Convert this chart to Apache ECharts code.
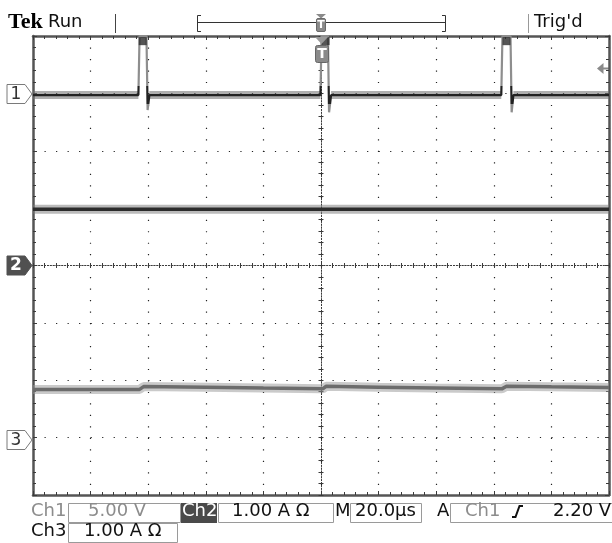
<!DOCTYPE html>
<html>
<head>
<meta charset="utf-8">
<script src="https://cdn.jsdelivr.net/npm/echarts@6/dist/echarts.min.js"></script>
<style>
html, body { margin: 0; padding: 0; background: #fff; }
#scope { width: 612px; height: 543px; }
</style>
</head>
<body>
<div id="scope"></div>
<script>
// ---- Acquisition data (time in µs relative to trigger, 20 µs/div) ----
// Channel 1: switching node voltage (V), 5.00 V/div
const ch1Time = [-100, -63.4, -63.0, -60.6, -60.2, -59.6, -0.2, 0.2, 2.4, 2.8, 3.5, 62.6, 63.0, 65.8, 66.2, 66.8, 100];
const ch1Volt = [0, 0, 5.15, 5.15, -1.3, 0, 0, 5.15, 5.15, -1.5, 0, 0, 5.15, 5.15, -1.5, 0, 0];
// Channel 1 over-range (clipped) blobs at the top of each pulse
const ch1ClipTime = [-61.9, 1.6, 64.4];
const ch1ClipVolt = [4.7, 4.7, 4.7];
// Channel 2: current (A), 1.00 A/div
const ch2Time = [-100, 100];
const ch2Amp = [0.98, 0.98];
// Channel 3: current (A), 1.00 A/div
const ch3Time = [-100, -63.0, -61.6, -40, -20, 0.6, 1.8, 20, 40, 62.8, 64.4, 80, 100];
const ch3Amp = [0.88, 0.88, 0.93, 0.92, 0.905, 0.89, 0.935, 0.92, 0.905, 0.89, 0.935, 0.925, 0.915];

// ---- Readout texts ----
const brandText = 'Tek';
const runText = 'Run';
const trigStateText = "Trig'd";
const ch1Label = 'Ch1', ch1Scale = '5.00 V';
const ch2Label = 'Ch2', ch2Scale = '1.00 A Ω';
const ch3Label = 'Ch3', ch3Scale = '1.00 A Ω';
const timebaseLabel = 'M', timebaseText = '20.0µs';
const trigLabel = 'A', trigSource = 'Ch1', trigLevel = '2.20 V';
const channelMarks = ['1', '2', '3'];

const zip = (xs, ys) => xs.map((x, i) => [x, ys[i]]);
// persistence haze only follows the settled (near-ground) part of channel 1
const ch1Settled = ch1Time.map((t, i) => Math.abs(ch1Volt[i]) <= 0.8 ? [t, ch1Volt[i]] : [t, null]);

const chart = echarts.init(document.getElementById('scope'), null, { renderer: 'canvas' });

const FONT = '"DejaVu Sans", Verdana, sans-serif';
const GRID = { left: 33, top: 36, width: 576, height: 459 };

const dotGrid = { color: '#222', width: 1.2 };
const centerAxis = (pos) => ({
  type: 'value', min: -100, max: 100, interval: 20, position: pos,
  axisLine: { show: true, onZero: true, onZeroAxisIndex: 0, lineStyle: { color: '#3a3a3a', width: 1, type: [1, 1.88] } },
  axisTick: { show: true, inside: true, length: 2.5, lineStyle: { color: '#3a3a3a', width: 1 } },
  minorTick: { show: true, splitNumber: 5, length: 2.5, lineStyle: { color: '#3a3a3a', width: 1 } },
  axisLabel: { show: false }, splitLine: { show: false }
});
const borderX = (pos) => ({
  type: 'value', min: -100, max: 100, interval: 20, position: pos,
  axisLine: { show: true, onZero: false, lineStyle: { color: '#555', width: 2.5 } },
  axisTick: { show: true, inside: true, length: 4, lineStyle: { color: '#3a3a3a', width: 1 } },
  minorTick: { show: true, splitNumber: 5, length: 3, lineStyle: { color: '#3a3a3a', width: 1 } },
  axisLabel: { show: false }, splitLine: { show: false }
});
const centerY = (pos) => ({
  type: 'value', min: -4, max: 4, interval: 1, position: pos,
  axisLine: { show: true, onZero: true, onZeroAxisIndex: 0, lineStyle: { color: '#3a3a3a', width: 1, type: [1, 1.87] } },
  axisTick: { show: true, inside: true, length: 2.5, lineStyle: { color: '#3a3a3a', width: 1 } },
  minorTick: { show: true, splitNumber: 5, length: 2.5, lineStyle: { color: '#3a3a3a', width: 1 } },
  axisLabel: { show: false }, splitLine: { show: false }
});
const borderY = (pos) => ({
  type: 'value', min: -4, max: 4, interval: 1, position: pos,
  axisLine: { show: true, onZero: false, lineStyle: { color: '#555', width: 2.5 } },
  axisTick: { show: true, inside: true, length: 4, lineStyle: { color: '#3a3a3a', width: 1 } },
  minorTick: { show: true, splitNumber: 5, length: 3, lineStyle: { color: '#3a3a3a', width: 1 } },
  axisLabel: { show: false }, splitLine: { show: false }
});

const xAxes = [centerAxis('bottom'), centerAxis('top'), borderX('bottom'), borderX('top')];
xAxes[0].splitLine = { show: true, lineStyle: Object.assign({ type: [1.2, 10.28] }, dotGrid) };

const yAxes = [centerY('left'), centerY('right'), borderY('left'), borderY('right'),
  // hidden per-channel scales: ch1 ground 2.97 div above centre, ch3 ground 3.04 div below
  { type: 'value', show: false, min: -34.85, max: 5.15 },
  { type: 'value', show: false, min: -0.96, max: 7.04 }];
yAxes[0].splitLine = { show: true, lineStyle: Object.assign({ type: [1.2, 10.32] }, dotGrid) };

const traceBase = { type: 'line', showSymbol: false, symbol: 'none', silent: true, animation: false, xAxisIndex: 0, connectNulls: false };

function text(x, y, str, opt) {
  opt = opt || {};
  return {
    type: 'text', silent: true, z: 100,
    style: {
      x: x, y: y, text: str,
      font: (opt.weight || 'normal') + ' ' + (opt.size || 18) + 'px ' + (opt.family || FONT),
      fill: opt.color || '#111',
      align: opt.align || 'left', verticalAlign: 'middle',
      textAlign: opt.align || 'left', textVerticalAlign: 'middle'
    }
  };
}
function box(x, y, w, h, fill, stroke) {
  return { type: 'rect', silent: true, z: 90, shape: { x: x, y: y, width: w, height: h },
    style: { fill: fill || 'none', stroke: stroke || 'none', lineWidth: 1 } };
}
function poly(points, style, closed) {
  return { type: closed ? 'polygon' : 'polyline', silent: true, z: 95, shape: { points: points }, style: style };
}
function marker(yc, label, filled) {
  const pts = [[7, yc - 9.5], [25, yc - 9.5], [32, yc], [25, yc + 9.5], [7, yc + 9.5]];
  return [
    poly(pts, { fill: filled ? '#505050' : '#fff', stroke: filled ? '#505050' : '#7a7a7a', lineWidth: 1 }, true),
    text(16, yc + 0.5, label, { size: 17, color: filled ? '#fff' : '#333', align: 'center', weight: filled ? 'bold' : 'normal' })
  ];
}

const rowY1 = 511.6, rowY2 = 531.6;
const graphics = [
  // status line
  text(8, 22.5, brandText, { size: 22, weight: 'bold', family: '"Liberation Serif", "DejaVu Serif", serif', color: '#000' }),
  text(48, 22.6, runText),
  { type: 'line', silent: true, shape: { x1: 115.5, y1: 14, x2: 115.5, y2: 33 }, style: { stroke: '#444', lineWidth: 1 } },
  poly([[201, 15.5], [197.5, 15.5], [197.5, 31.5], [201, 31.5]], { stroke: '#333', lineWidth: 1, fill: 'none' }),
  { type: 'line', silent: true, shape: { x1: 197.5, y1: 22.5, x2: 445.5, y2: 22.5 }, style: { stroke: '#333', lineWidth: 1 } },
  poly([[442, 15.5], [445.5, 15.5], [445.5, 31.5], [442, 31.5]], { stroke: '#333', lineWidth: 1, fill: 'none' }),
  poly([[316, 14], [326, 14], [321, 18.5]], { fill: '#8a8a8a' }, true),
  { type: 'rect', silent: true, z: 95, shape: { x: 316.5, y: 18.5, width: 9, height: 13, r: 1.5 }, style: { fill: '#8a8a8a', stroke: '#6a6a6a', lineWidth: 1 } },
  text(321, 25.5, 'T', { size: 11, color: '#fff', align: 'center', weight: 'bold' }),
  { type: 'line', silent: true, shape: { x1: 528.5, y1: 14, x2: 528.5, y2: 33 }, style: { stroke: '#999', lineWidth: 1 } },
  text(534, 22.6, trigStateText),
  // trigger position marker inside the graticule
  poly([[315, 37], [328, 37], [321.5, 44]], { fill: '#9a9a9a' }, true),
  { type: 'rect', silent: true, z: 95, shape: { x: 315.5, y: 45.5, width: 13, height: 17, r: 2 }, style: { fill: '#8a8a8a', stroke: '#666', lineWidth: 1 } },
  text(322, 54.5, 'T', { size: 14, color: '#fff', align: 'center', weight: 'bold' }),
  // trigger level arrow on the right edge
  poly([[597, 68.5], [603.5, 63], [603.5, 74]], { fill: '#8a8a8a' }, true),
  { type: 'line', silent: true, shape: { x1: 602, y1: 68.5, x2: 609, y2: 68.5 }, style: { stroke: '#8a8a8a', lineWidth: 2 } },
  // readout boxes
  box(68.5, 503.5, 112, 19, 'none', '#9a9a9a'),
  box(181, 503, 36, 20, '#4a4a4a', 'none'),
  box(218.5, 503.5, 115, 19, 'none', '#9a9a9a'),
  box(350.5, 503.5, 71, 19, 'none', '#9a9a9a'),
  box(450.5, 503.5, 162, 19, 'none', '#9a9a9a'),
  box(68.5, 523.5, 109, 19, 'none', '#9a9a9a'),
  text(31, rowY1, ch1Label, { color: '#8c8c8c' }),
  text(88, rowY1, ch1Scale, { color: '#8c8c8c' }),
  text(182, rowY1, ch2Label, { color: '#fff' }),
  text(232, rowY1, ch2Scale),
  text(335, rowY1, timebaseLabel),
  text(355, rowY1, timebaseText),
  text(437, rowY1, trigLabel),
  text(465, rowY1, trigSource, { color: '#8c8c8c' }),
  poly([[512, 517], [515.5, 517], [519.5, 506], [523, 506]], { stroke: '#111', lineWidth: 2, fill: 'none' }),
  text(553, rowY1, trigLevel),
  text(31, rowY2, ch3Label),
  text(84, rowY2, ch3Scale)
].concat(marker(94, channelMarks[0], false), marker(265.5, channelMarks[1], true), marker(440, channelMarks[2], false));

chart.setOption({
  animation: false,
  backgroundColor: '#fff',
  grid: Object.assign({ show: false, containLabel: false }, GRID),
  xAxis: xAxes,
  yAxis: yAxes,
  visualMap: [
    { type: 'piecewise', show: false, seriesIndex: 5, dimension: 1,
      pieces: [{ gte: -0.8, lte: 0.8, color: '#222' }], outOfRange: { color: '#8e8e8e' } }
  ],
  series: [
    Object.assign({}, traceBase, { name: 'ch2 band', yAxisIndex: 0, data: zip(ch2Time, ch2Amp), lineStyle: { color: 'rgba(120,120,120,0.5)', width: 9 } }),
    Object.assign({}, traceBase, { name: 'ch3 band', yAxisIndex: 5, data: zip(ch3Time, ch3Amp), lineStyle: { color: 'rgba(150,150,150,0.5)', width: 9 } }),
    Object.assign({}, traceBase, { name: 'ch1 band', yAxisIndex: 4, data: ch1Settled, lineStyle: { color: 'rgba(110,110,110,0.55)', width: 8 } }),
    Object.assign({}, traceBase, { name: 'ch2', yAxisIndex: 0, data: zip(ch2Time, ch2Amp), lineStyle: { color: '#2c2c2c', width: 3.5 } }),
    Object.assign({}, traceBase, { name: 'ch3', yAxisIndex: 5, data: zip(ch3Time, ch3Amp), lineStyle: { color: '#6c6c6c', width: 3.5 } }),
    Object.assign({}, traceBase, { name: 'ch1', yAxisIndex: 4, data: zip(ch1Time, ch1Volt), lineStyle: { width: 2.2 } }),
    { type: 'scatter', name: 'ch1 clip', xAxisIndex: 0, yAxisIndex: 4, silent: true, symbol: 'rect', symbolSize: [8, 8],
      data: zip(ch1ClipTime, ch1ClipVolt), itemStyle: { color: '#2a2a2a' }, z: 3 }
  ],
  graphic: { elements: graphics }
});
</script>
</body>
</html>
